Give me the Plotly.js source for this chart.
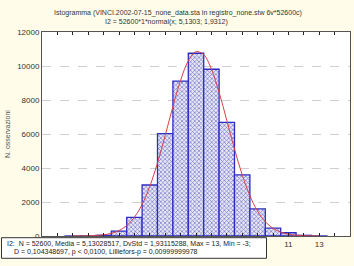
<!DOCTYPE html>
<html>
<head>
<meta charset="utf-8">
<script src="https://cdn.plot.ly/plotly-3.0.1.min.js"></script>
<style>html,body{margin:0;padding:0;background:#fffcea;}#chart{width:354px;height:266px;}</style>
</head>
<body>
<div id="chart"></div>
<script>
// Histogram bins (class centers) and counts
var binCenters = [-3,-2,-1,0,1,2,3,4,5,6,7,8,9,10,11,12,13];
var binCounts  = [2,8,40,290,1090,3000,6020,9110,10750,9810,6680,3590,1590,460,190,40,5];

// Fitted normal curve
var curveX = [-3,-2.5,-2,-1.5,-1,-0.5,0,0.5,1,1.5,2,2.5,3,3.5,4,4.5,5,5.5,6,6.5,7,7.5,8,8.5,9,9.5,10,10.5,11,11.5,12,12.5,13];
var curveY = [2,4,12,30,70,155,319,613,1103,1856,2921,4299,5915,7610,9157,10303,10841,10668,9817,8448,6800,5117,3601,2370,1459,840,452,227,107,47,19,7,2];

// Only the x labels not hidden by the statistics box
var xTickVals = [11,13];
var xTickText = ['11','13'];
var yTickVals = [0,2000,4000,6000,8000,10000,12000];
var yTickText = ['0','2000','4000','6000','8000','10000','12000'];

var titleLine1 = 'Istogramma (VINCI.2002-07-15_none_data.sta in registro_none.stw 6v*52600c)';
var titleLine2 = 'I2 = 52600*1*normal(x; 5,1303; 1,9312)';
var yTitle = 'N. osservazioni';
var statsLine1 = 'I2:\u00a0\u00a0N = 52600, Media = 5,13028517, DvStd = 1,93115288, Max = 13, Min = -3;';
var statsLine2 = 'D = 0,104348697, p < 0,0100, Lilliefors-p = 0,00999999978';

var fontFam = 'Liberation Sans, Arial, sans-serif';

var traces = [
  {
    type: 'bar',
    x: binCenters,
    y: binCounts,
    width: 1,
    marker: {
      color: '#ffffff',
      line: {color: '#2c2cc4', width: 1.3},
      pattern: {shape: 'x', fgcolor: '#7474c8', bgcolor: '#e8e8f4', size: 3, solidity: 0.4}
    },
    hoverinfo: 'skip'
  },
  {
    type: 'scatter',
    mode: 'lines',
    x: curveX,
    y: curveY,
    line: {color: '#d8404a', width: 1, shape: 'spline'},
    hoverinfo: 'skip'
  }
];

var layout = {
  width: 354,
  height: 266,
  margin: {l: 42, r: 4, t: 32, b: 30},
  paper_bgcolor: '#fffcea',
  plot_bgcolor: '#ffffff',
  showlegend: false,
  bargap: 0,
  font: {family: fontFam, size: 8, color: '#333333'},
  xaxis: {
    range: [-5, 15],
    tickvals: xTickVals,
    ticktext: xTickText,
    ticks: 'inside',
    ticklen: 3,
    tickcolor: '#222222',
    minor: {dtick: 1, tick0: 0, ticks: 'inside', ticklen: 3, tickcolor: '#222222', showgrid: false},
    showgrid: false,
    zeroline: false,
    showline: true,
    linecolor: '#555555',
    linewidth: 1,
    mirror: 'ticks',
    tickfont: {size: 8, color: '#333333'}
  },
  yaxis: {
    range: [0, 12000],
    tickvals: yTickVals,
    ticktext: yTickText,
    ticks: '',
    showgrid: true,
    gridcolor: '#cfcfcf',
    griddash: 'dash',
    gridwidth: 1,
    zeroline: false,
    showline: true,
    linecolor: '#555555',
    linewidth: 1,
    mirror: true,
    tickfont: {size: 8, color: '#333333'}
  },
  shapes: [
    {type: 'rect', xref: 'paper', yref: 'paper', layer: 'above',
     x0: -0.1315, x1: 0.7289, y0: -0.1093, y1: -0.0083,
     line: {color: '#333333', width: 1}, fillcolor: '#ffffff'}
  ],
  annotations: [
    {text: titleLine1, xref: 'paper', yref: 'paper', x: 0.4416, y: 1.0946, xanchor: 'center', yanchor: 'middle', showarrow: false, font: {size: 7, color: '#333333'}},
    {text: titleLine2, xref: 'paper', yref: 'paper', x: 0.4026, y: 1.0475, xanchor: 'center', yanchor: 'middle', showarrow: false, font: {size: 7, color: '#333333'}},
    {text: yTitle, xref: 'paper', yref: 'paper', x: -0.1136, y: 0.5, xanchor: 'center', yanchor: 'middle', textangle: -90, showarrow: false, font: {size: 7, color: '#555555'}},
    {text: statsLine1, xref: 'paper', yref: 'paper', x: -0.1190, y: -0.039, xanchor: 'left', yanchor: 'middle', showarrow: false, font: {size: 7, color: '#222222'}},
    {text: statsLine2, xref: 'paper', yref: 'paper', x: -0.0990, y: -0.078, xanchor: 'left', yanchor: 'middle', showarrow: false, font: {size: 7, color: '#222222'}}
  ]
};

Plotly.newPlot('chart', traces, layout, {staticPlot: true, displayModeBar: false});
</script>
</body>
</html>
